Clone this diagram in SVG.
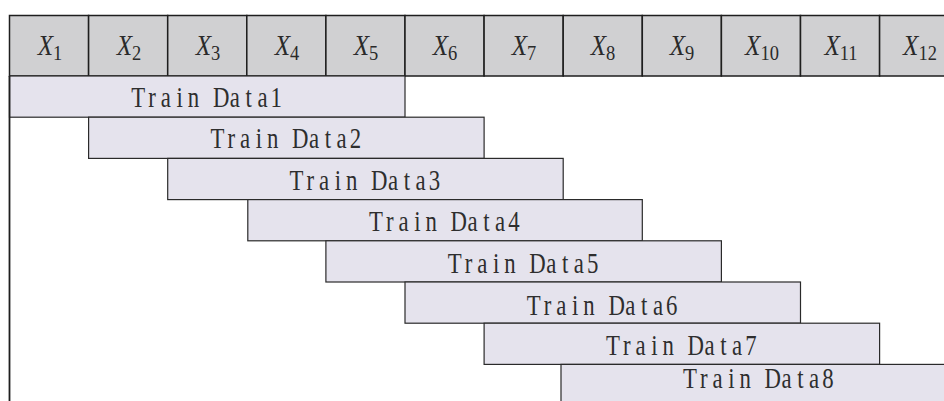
<svg xmlns="http://www.w3.org/2000/svg" width="944" height="401" viewBox="0 0 944 401">
  <style>
    .cell { fill: #d0d0d2; stroke: #1e1e1e; stroke-width: 1.5; }
    .box { fill: #e5e3ed; stroke: #2a2a2a; stroke-width: 1.2; }
    .var { font-family: "Liberation Serif", "Times New Roman", serif; fill: #2a2a2a; text-anchor: middle; }
    .var .x { font-style: italic; font-size: 30px; }
    .var .sub { font-size: 22px; }
    /* fixed-pitch serif label: each glyph is centred on its own cell, narrowed horizontally */
    .lbl { font-family: "Liberation Serif", "Times New Roman", serif; font-size: 30px; fill: #2e2e2e; text-anchor: middle; }
  </style>
  <rect width="944" height="401" fill="#ffffff"/>

  <!-- header row of samples X1..X12 -->
  <g id="header">
    <rect class="cell" x="9.5" y="15.5" width="79.1" height="60.5"/>
    <rect class="cell" x="88.6" y="15.5" width="79.1" height="60.5"/>
    <rect class="cell" x="167.7" y="15.5" width="79.1" height="60.5"/>
    <rect class="cell" x="246.8" y="15.5" width="79.1" height="60.5"/>
    <rect class="cell" x="325.9" y="15.5" width="79.1" height="60.5"/>
    <rect class="cell" x="405" y="15.5" width="79.1" height="60.5"/>
    <rect class="cell" x="484.1" y="15.5" width="79.1" height="60.5"/>
    <rect class="cell" x="563.2" y="15.5" width="79.1" height="60.5"/>
    <rect class="cell" x="642.3" y="15.5" width="79.1" height="60.5"/>
    <rect class="cell" x="721.4" y="15.5" width="79.1" height="60.5"/>
    <rect class="cell" x="800.5" y="15.5" width="79.1" height="60.5"/>
    <rect class="cell" x="879.6" y="15.5" width="79.1" height="60.5"/>
    <text class="var" transform="translate(50,55) scale(0.84,1)"><tspan class="x">X</tspan><tspan class="sub" dy="5">1</tspan></text>
    <text class="var" transform="translate(129,55) scale(0.84,1)"><tspan class="x">X</tspan><tspan class="sub" dy="5">2</tspan></text>
    <text class="var" transform="translate(208,55) scale(0.84,1)"><tspan class="x">X</tspan><tspan class="sub" dy="5">3</tspan></text>
    <text class="var" transform="translate(287,55) scale(0.84,1)"><tspan class="x">X</tspan><tspan class="sub" dy="5">4</tspan></text>
    <text class="var" transform="translate(366,55) scale(0.84,1)"><tspan class="x">X</tspan><tspan class="sub" dy="5">5</tspan></text>
    <text class="var" transform="translate(445,55) scale(0.84,1)"><tspan class="x">X</tspan><tspan class="sub" dy="5">6</tspan></text>
    <text class="var" transform="translate(524,55) scale(0.84,1)"><tspan class="x">X</tspan><tspan class="sub" dy="5">7</tspan></text>
    <text class="var" transform="translate(603,55) scale(0.84,1)"><tspan class="x">X</tspan><tspan class="sub" dy="5">8</tspan></text>
    <text class="var" transform="translate(682,55) scale(0.84,1)"><tspan class="x">X</tspan><tspan class="sub" dy="5">9</tspan></text>
    <text class="var" transform="translate(762,55) scale(0.84,1)"><tspan class="x">X</tspan><tspan class="sub" dy="5">10</tspan></text>
    <text class="var" transform="translate(841,55) scale(0.84,1)"><tspan class="x">X</tspan><tspan class="sub" dy="5">11</tspan></text>
    <text class="var" transform="translate(920,55) scale(0.84,1)"><tspan class="x">X</tspan><tspan class="sub" dy="5">12</tspan></text>
  </g>

  <!-- sliding training windows, five samples each -->
  <g id="train1">
    <rect class="box" x="9.5" y="76" width="395.5" height="41.2"/>
    <text class="lbl" transform="translate(207.3,107) scale(0.76,1)" x="-90.8 -72.6 -54.5 -36.3 -18.2 0 18.2 36.3 54.5 72.6 90.8">Train Data1</text>
  </g>
  <g id="train2">
    <rect class="box" x="88.6" y="117.2" width="395.5" height="41.2"/>
    <text class="lbl" transform="translate(286.4,148) scale(0.76,1)" x="-90.8 -72.6 -54.5 -36.3 -18.2 0 18.2 36.3 54.5 72.6 90.8">Train Data2</text>
  </g>
  <g id="train3">
    <rect class="box" x="167.7" y="158.4" width="395.5" height="41.2"/>
    <text class="lbl" transform="translate(365.5,189.5) scale(0.76,1)" x="-90.8 -72.6 -54.5 -36.3 -18.2 0 18.2 36.3 54.5 72.6 90.8">Train Data3</text>
  </g>
  <g id="train4">
    <rect class="box" x="247.8" y="199.6" width="394.5" height="41.2"/>
    <text class="lbl" transform="translate(445,231) scale(0.76,1)" x="-90.8 -72.6 -54.5 -36.3 -18.2 0 18.2 36.3 54.5 72.6 90.8">Train Data4</text>
  </g>
  <g id="train5">
    <rect class="box" x="325.9" y="240.8" width="395.5" height="41.2"/>
    <text class="lbl" transform="translate(523.7,272.5) scale(0.76,1)" x="-90.8 -72.6 -54.5 -36.3 -18.2 0 18.2 36.3 54.5 72.6 90.8">Train Data5</text>
  </g>
  <g id="train6">
    <rect class="box" x="405" y="282" width="395.5" height="41.2"/>
    <text class="lbl" transform="translate(602.8,314.5) scale(0.76,1)" x="-90.8 -72.6 -54.5 -36.3 -18.2 0 18.2 36.3 54.5 72.6 90.8">Train Data6</text>
  </g>
  <g id="train7">
    <rect class="box" x="484.1" y="323.2" width="395.5" height="41.2"/>
    <text class="lbl" transform="translate(681.9,355) scale(0.76,1)" x="-90.8 -72.6 -54.5 -36.3 -18.2 0 18.2 36.3 54.5 72.6 90.8">Train Data7</text>
  </g>
  <g id="train8">
    <rect class="box" x="561" y="364.4" width="396" height="41.2"/>
    <text class="lbl" transform="translate(759,388) scale(0.76,1)" x="-90.8 -72.6 -54.5 -36.3 -18.2 0 18.2 36.3 54.5 72.6 90.8">Train Data8</text>
  </g>

  <!-- left axis line -->
  <g id="connectors">
    <line x1="9.5" y1="76" x2="9.5" y2="401" stroke="#1e1e1e" stroke-width="1.8"/>
  </g>
</svg>
